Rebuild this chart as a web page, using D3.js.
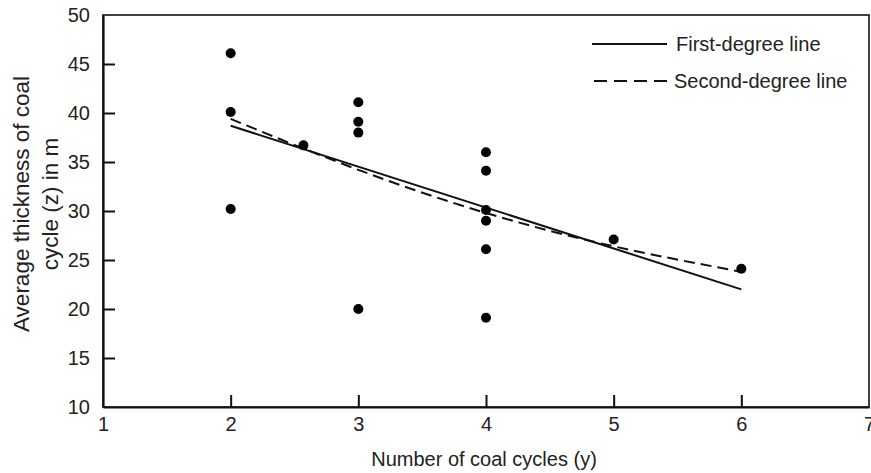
<!DOCTYPE html>
<html>
<head>
<meta charset="utf-8">
<script src="https://cdn.jsdelivr.net/npm/d3@7"></script>
<style>
  html, body { margin: 0; padding: 0; background: #fff; }
  svg { display: block; font-family: "Liberation Sans", Arial, sans-serif; }
</style>
</head>
<body>
<svg id="chart" width="871" height="473"></svg>
<script>
// Data
const pointX = [2, 2, 2, 2.57, 3, 3, 3, 3, 4, 4, 4, 4, 4, 4, 5, 6];
const pointY = [46.1, 40.1, 30.2, 36.7, 41.1, 39.1, 38.0, 20.0, 36.0, 34.1, 30.1, 29.0, 26.1, 19.1, 27.1, 24.1];
const firstDegreeX = [2, 6];
const firstDegreeY = [38.7, 22.0];
const secondDegreeX = [2, 3, 4, 5, 6];
const secondDegreeY = [39.4, 34.2, 29.8, 26.4, 23.8];
const xTicks = [1, 2, 3, 4, 5, 6, 7];
const yTicks = [10, 15, 20, 25, 30, 35, 40, 45, 50];
const legendLabels = ["First-degree line", "Second-degree line"];

const svg = d3.select("#chart");
const L = 103, R = 869, T = 15, B = 407;
const x = d3.scaleLinear().domain([1, 7]).range([L, R]);
const y = d3.scaleLinear().domain([10, 50]).range([B, T]);

// frame
svg.append("rect").attr("x", L).attr("y", T).attr("width", R - L).attr("height", B - T)
  .attr("fill", "none").attr("stroke", "#111").attr("stroke-width", 1.6);

// x axis
const xAxis = d3.axisBottom(x).tickValues(xTicks).tickFormat(d3.format("d")).tickSizeInner(-12).tickSizeOuter(0).tickPadding(10);
const gx = svg.append("g").attr("transform", `translate(0,${B})`).call(xAxis);
gx.select(".domain").attr("stroke", "#111").attr("stroke-width", 2.2);
gx.selectAll(".tick line").attr("stroke", "#111").attr("stroke-width", 2)
  .attr("display", d => (d === 1 || d === 7) ? "none" : null);
gx.selectAll(".tick text").attr("font-size", 20).attr("fill", "#222").attr("font-family", "Liberation Sans, Arial, sans-serif");

// y axis
const yAxis = d3.axisLeft(y).tickValues(yTicks).tickFormat(d3.format("d")).tickSizeInner(-12).tickSizeOuter(0).tickPadding(13);
const gy = svg.append("g").attr("transform", `translate(${L},0)`).call(yAxis);
gy.select(".domain").attr("stroke", "#111").attr("stroke-width", 2.2);
gy.selectAll(".tick line").attr("stroke", "#111").attr("stroke-width", 2)
  .attr("display", d => (d === 10 || d === 50) ? "none" : null);
gy.selectAll(".tick text").attr("font-size", 20).attr("fill", "#222").attr("font-family", "Liberation Sans, Arial, sans-serif");

// axis titles
svg.append("text").attr("x", (L + R) / 2 - 2).attr("y", 466).attr("text-anchor", "middle")
  .attr("font-size", 20).attr("fill", "#222").text("Number of coal cycles (y)");
const yt = svg.append("text").attr("transform", `translate(29,204) rotate(-90)`).attr("text-anchor", "middle")
  .attr("font-size", 22.5).attr("fill", "#222");
yt.append("tspan").attr("x", 0).attr("y", 0).text("Average thickness of coal");
yt.append("tspan").attr("x", 0).attr("y", 29).text("cycle (z) in m");

// lines
const line = d3.line().x(d => x(d[0])).y(d => y(d[1]));
svg.append("path").datum(d3.zip(firstDegreeX, firstDegreeY))
  .attr("d", line).attr("fill", "none").attr("stroke", "#111").attr("stroke-width", 2);
svg.append("path").datum(d3.zip(secondDegreeX, secondDegreeY))
  .attr("d", line.curve(d3.curveNatural)).attr("fill", "none").attr("stroke", "#111")
  .attr("stroke-width", 2).attr("stroke-dasharray", "11,6");

// points
svg.append("g").selectAll("circle").data(d3.zip(pointX, pointY)).join("circle")
  .attr("cx", d => x(d[0])).attr("cy", d => y(d[1])).attr("r", 5).attr("fill", "#000");

// legend
const lg = svg.append("g");
lg.append("line").attr("x1", 592).attr("x2", 667).attr("y1", 44).attr("y2", 44)
  .attr("stroke", "#111").attr("stroke-width", 2);
lg.append("line").attr("x1", 594).attr("x2", 667).attr("y1", 81).attr("y2", 81)
  .attr("stroke", "#111").attr("stroke-width", 2).attr("stroke-dasharray", "13,7");
lg.append("text").attr("x", 676).attr("y", 51).attr("font-size", 20).attr("fill", "#222").text(legendLabels[0]);
lg.append("text").attr("x", 674).attr("y", 88).attr("font-size", 20).attr("fill", "#222").text(legendLabels[1]);
</script>
</body>
</html>
